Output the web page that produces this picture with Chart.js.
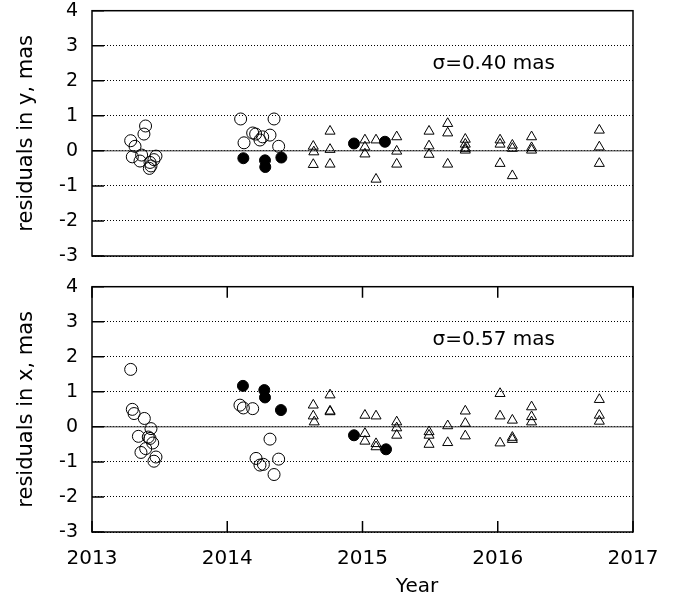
<!DOCTYPE html>
<html>
<head>
<meta charset="utf-8">
<script src="https://cdn.jsdelivr.net/npm/chart.js@4/dist/chart.umd.min.js"></script>
<style>
  html,body{margin:0;padding:0;background:#fff;}
  #wrap{position:relative;width:690px;height:603px;}
  canvas{position:absolute;left:0;}
</style>
</head>
<body>
<div id="wrap">
  <canvas id="topChart" width="690" height="270" style="top:0"></canvas>
  <canvas id="botChart" width="690" height="333" style="top:270px"></canvas>
</div>
<script>
// residuals in y (top panel)
const yOpenYear=[2013.286,2013.298,2013.318,2013.355,2013.367,2013.384,2013.396,2013.424,2013.429,2013.436,2013.458,2013.473,2014.099,2014.124,2014.188,2014.21,2014.242,2014.262,2014.316,2014.346,2014.38];
const yOpenRes=[0.29,-0.17,0.13,-0.29,-0.12,0.48,0.71,-0.50,-0.33,-0.43,-0.25,-0.15,0.91,0.23,0.51,0.48,0.31,0.40,0.45,0.91,0.13];
const yFillYear=[2014.119,2014.279,2014.281,2014.4,2014.937,2015.166];
const yFillRes=[-0.21,-0.27,-0.46,-0.19,0.21,0.26];
const yTriYear=[2014.636,2014.64,2014.636,2014.76,2014.76,2014.76,2015.018,2015.018,2015.018,2015.1,2015.1,2015.253,2015.253,2015.253,2015.492,2015.492,2015.492,2015.63,2015.63,2015.63,2015.76,2015.76,2015.76,2015.76,2016.017,2016.017,2016.017,2016.108,2016.108,2016.108,2016.25,2016.25,2016.25,2016.751,2016.751,2016.751];
const yTriRes=[0.13,-0.03,-0.39,0.56,0.04,-0.38,0.31,0.11,-0.09,0.31,-0.81,0.40,-0.01,-0.38,0.56,0.14,-0.10,0.78,0.51,-0.38,0.33,0.19,0.07,0.02,0.31,0.19,-0.36,0.16,0.07,-0.71,0.40,0.09,0.02,0.59,0.11,-0.36];

// residuals in x (bottom panel)
const xOpenYear=[2013.286,2013.298,2013.311,2013.343,2013.362,2013.387,2013.397,2013.416,2013.429,2013.436,2013.449,2013.458,2013.473,2014.094,2014.119,2014.188,2014.213,2014.242,2014.267,2014.316,2014.346,2014.38];
const xOpenRes=[1.64,0.50,0.38,-0.27,-0.73,0.24,-0.62,-0.29,-0.33,-0.05,-0.46,-0.98,-0.86,0.62,0.54,0.52,-0.90,-1.09,-1.07,-0.35,-1.36,-0.92];
const xFillYear=[2014.116,2014.274,2014.279,2014.397,2014.937,2015.174];
const xFillRes=[1.17,1.05,0.84,0.48,-0.24,-0.64];
const xTriYear=[2014.636,2014.636,2014.643,2014.76,2014.76,2014.76,2015.018,2015.018,2015.018,2015.1,2015.1,2015.1,2015.253,2015.253,2015.253,2015.492,2015.492,2015.492,2015.63,2015.63,2015.76,2015.76,2015.76,2016.017,2016.017,2016.017,2016.108,2016.108,2016.108,2016.25,2016.25,2016.25,2016.751,2016.751,2016.751];
const xTriRes=[0.62,0.31,0.14,0.91,0.45,0.43,0.33,-0.19,-0.41,0.31,-0.48,-0.57,0.14,-0.03,-0.24,-0.14,-0.24,-0.50,0.03,-0.45,0.45,0.10,-0.26,0.95,0.31,-0.46,0.19,-0.30,-0.36,0.57,0.29,0.14,0.78,0.33,0.16];

const yearMin=2013, yearMax=2017, resMin=-3, resMax=4;
const sigmaY='σ=0.40 mas', sigmaX='σ=0.57 mas';
const sigmaAt=[2015.97,2.48];
const FONT='"DejaVu Sans"';

const pts=(xs,ys)=>xs.map((x,i)=>({x,y:ys[i]}));

function sets(openX,openY,fillX,fillY,triX,triY){
  return [
    {data:pts(openX,openY),pointStyle:'circle',pointRadius:6,borderWidth:1,borderColor:'#000',backgroundColor:'rgba(0,0,0,0)'},
    {data:pts(fillX,fillY),pointStyle:'circle',pointRadius:5.5,borderWidth:1,borderColor:'#000',backgroundColor:'#000'},
    {data:pts(triX,triY),pointStyle:'triangle',pointRadius:5.8,borderWidth:1,borderColor:'#000',backgroundColor:'rgba(0,0,0,0)'}
  ];
}

// frame, inward ticks, zero line, sigma label
const panelPlugin={
  id:'panel',
  beforeDatasetsDraw(chart){
    const {ctx,chartArea:a,scales:{y}}=chart;
    const y0=y.getPixelForValue(0);
    ctx.save(); ctx.strokeStyle='#333'; ctx.lineWidth=1;
    ctx.beginPath(); ctx.moveTo(a.left,y0); ctx.lineTo(a.right,y0); ctx.stroke();
    ctx.restore();
  },
  afterDraw(chart,args,o){
    const {ctx,chartArea:a,scales:{x,y}}=chart;
    ctx.save(); ctx.strokeStyle='#000'; ctx.lineWidth=1.5;
    ctx.beginPath();
    for(let v=resMin;v<=resMax;v++){const p=y.getPixelForValue(v); ctx.moveTo(a.left,p); ctx.lineTo(a.left+12,p);}
    if(o.xTicks){
      for(let v=yearMin;v<=yearMax;v++){const p=x.getPixelForValue(v);
        ctx.moveTo(p,a.top); ctx.lineTo(p,a.top+11); ctx.moveTo(p,a.bottom); ctx.lineTo(p,a.bottom-11);}
    }
    ctx.stroke();
    ctx.strokeRect(a.left,a.top,a.width,a.height);
    ctx.fillStyle='#000'; ctx.textAlign='center'; ctx.textBaseline='middle';
    ctx.font='20px '+FONT;
    ctx.fillText(o.label,x.getPixelForValue(sigmaAt[0]),y.getPixelForValue(sigmaAt[1]));
    if(o.xTitle){ctx.font='20px '+FONT; ctx.fillText(o.xTitle,417,317);}
    ctx.restore();
  }
};

function makeChart(id,data,yTitle,label,bottom){
  return new Chart(document.getElementById(id),{
    type:'scatter',
    data:{datasets:data},
    plugins:[panelPlugin],
    options:{
      responsive:false,animation:false,devicePixelRatio:1,
      layout:{padding:{top:bottom?16.7:10.7,right:57,bottom:bottom?0:14,left:0}},
      plugins:{legend:{display:false},tooltip:{enabled:false},panel:{label,xTicks:bottom,xTitle:bottom?'Year':''}},
      scales:{
        x:{type:'linear',min:yearMin,max:yearMax,display:bottom,
          grid:{display:false,drawTicks:false},border:{display:false},
          ticks:{stepSize:1,padding:15,color:'#000',font:{family:FONT,size:20},callback:v=>String(v)},
          afterFit(s){if(bottom){s.height=71;s.paddingLeft=0;s.paddingRight=0;}}},
        y:{min:resMin,max:resMax,
          grid:{color:'#000',lineWidth:1,drawTicks:false},
          border:{display:false,dash:[1,2]},
          ticks:{stepSize:1,padding:14,autoSkip:false,color:'#000',font:{family:FONT,size:19}},
          title:{display:true,text:yTitle,color:'#000',font:{family:FONT,size:21},padding:{top:14,bottom:0}},
          afterFit(s){s.width=92;s.paddingTop=0;s.paddingBottom=0;}}
      }
    }
  });
}

makeChart('topChart',sets(yOpenYear,yOpenRes,yFillYear,yFillRes,yTriYear,yTriRes),'residuals in y, mas',sigmaY,false);
makeChart('botChart',sets(xOpenYear,xOpenRes,xFillYear,xFillRes,xTriYear,xTriRes),'residuals in x, mas',sigmaX,true);
</script>
</body>
</html>
